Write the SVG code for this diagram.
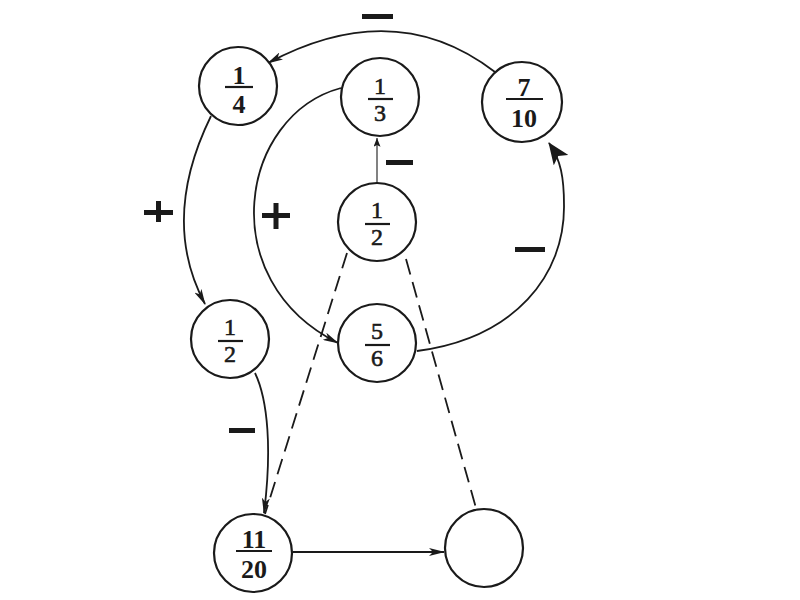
<svg xmlns="http://www.w3.org/2000/svg" width="800" height="600" viewBox="0 0 800 600">
<style>
.node{fill:#fff;stroke:#1a1a1a;stroke-width:2.2}
.num{font-family:"Liberation Serif",serif;font-size:26px;fill:#1a1a1a;text-anchor:middle}
.r{font-size:24px;stroke:#1a1a1a;stroke-width:0.6}
.b{font-weight:bold}
.bar{stroke:#1a1a1a;stroke-width:2.2}
.edge{fill:none;stroke:#1a1a1a;stroke-width:1.8}
.thin{fill:none;stroke:#1a1a1a;stroke-width:1.1}
.dash{fill:none;stroke:#1a1a1a;stroke-width:1.8;stroke-dasharray:16 8}
.sign{fill:#1a1a1a}
</style>
<defs>
<marker id="arr" viewBox="0 0 16 8" refX="15" refY="4" markerWidth="16" markerHeight="8" markerUnits="userSpaceOnUse" orient="auto">
<path d="M0,0 L16,4 L0,8 L4,4 z" fill="#1a1a1a"/>
</marker>
<marker id="arrs" viewBox="0 0 10 8" refX="10" refY="4" markerWidth="9" markerHeight="7" markerUnits="userSpaceOnUse" orient="auto">
<path d="M0,0 L10,4 L0,8 L2,4 z" fill="#1a1a1a"/>
</marker>
<marker id="arrb" viewBox="0 0 22 18" refX="21" refY="9" markerWidth="22" markerHeight="18" markerUnits="userSpaceOnUse" orient="auto">
<path d="M0,0 L22,9 L0,18 L5,9 z" fill="#1a1a1a"/>
</marker>
</defs>
<g id="connectors">
<path class="edge" d="M495,72 Q395,-5 268,63" marker-end="url(#arr)"/>
<path class="edge" d="M211,116 Q160,220 205,304" marker-end="url(#arr)"/>
<path class="edge" d="M341,88 C240,115 212,280 338,343" marker-end="url(#arr)"/>
<path class="thin" d="M377,183 L377,138" marker-end="url(#arrs)"/>
<path class="edge" d="M417,351 C515,338 565,275 564,205 C564,178 561,160 549,143" marker-end="url(#arrb)"/>
<path class="edge" d="M255,373 C268,400 272,450 264,513" marker-end="url(#arr)"/>
<path class="dash" d="M347,253 L265,514"/>
<path class="dash" d="M406,259 L476,508"/>
<path class="edge" d="M293,552 L444,552" marker-end="url(#arr)"/>
</g>
<g id="labels">
<rect class="sign" x="362" y="14" width="31" height="5"/>
<rect class="sign" x="386" y="160" width="27" height="5"/>
<rect class="sign" x="515" y="247" width="30" height="5"/>
<rect class="sign" x="229" y="428" width="26" height="5"/>
<path class="sign" d="M144,210 H173 V215 H144 Z M156,201 H161 V222 H156 Z"/>
<path class="sign" d="M262,213 H290 V218 H262 Z M273.5,203 H278.5 V229 H273.5 Z"/>
</g>
<g id="n14">
<circle class="node" cx="238" cy="86" r="39"/>
<text class="num b" x="239" y="84">1</text>
<line class="bar" x1="225" y1="87" x2="253" y2="87"/>
<text class="num b" x="239" y="113">4</text>
</g>
<g id="n13">
<circle class="node" cx="380" cy="97" r="39"/>
<text class="num r" x="380" y="94">1</text>
<line class="bar" x1="368" y1="99" x2="393" y2="99"/>
<text class="num r" x="380" y="121">3</text>
</g>
<g id="n710">
<circle class="node" cx="522" cy="102" r="40"/>
<text class="num b" x="524" y="96">7</text>
<line class="bar" x1="506" y1="99" x2="543" y2="99"/>
<text class="num b" x="524" y="127">10</text>
</g>
<g id="n12c">
<circle class="node" cx="377" cy="222" r="39"/>
<text class="num r" x="377" y="218">1</text>
<line class="bar" x1="365" y1="224" x2="390" y2="224"/>
<text class="num r" x="377" y="245">2</text>
</g>
<g id="n12l">
<circle class="node" cx="230" cy="339" r="39"/>
<text class="num r" x="230" y="335">1</text>
<line class="bar" x1="218" y1="341" x2="243" y2="341"/>
<text class="num r" x="230" y="362">2</text>
</g>
<g id="n56">
<circle class="node" cx="377" cy="343" r="39"/>
<text class="num r" x="377" y="339">5</text>
<line class="bar" x1="365" y1="345" x2="390" y2="345"/>
<text class="num r" x="377" y="366">6</text>
</g>
<g id="n1120">
<circle class="node" cx="253" cy="553" r="39"/>
<text class="num b" x="254" y="548">11</text>
<line class="bar" x1="236" y1="551" x2="272" y2="551"/>
<text class="num b" x="254" y="578">20</text>
</g>
<g id="nempty">
<circle class="node" cx="484" cy="548" r="39"/>
</g>
</svg>
